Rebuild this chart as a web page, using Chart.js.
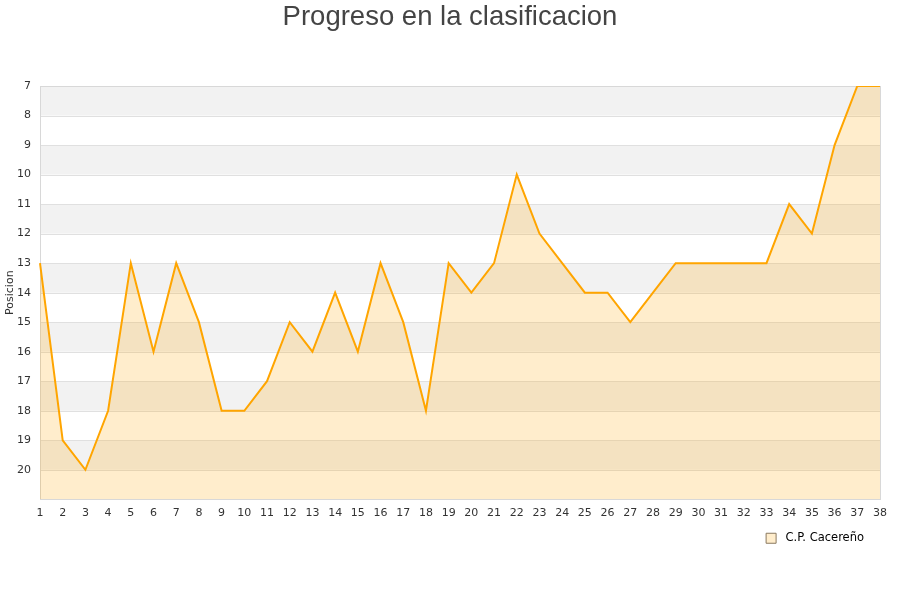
<!DOCTYPE html>
<html>
<head>
<meta charset="utf-8">
<script src="https://cdn.jsdelivr.net/npm/chart.js@4/dist/chart.umd.min.js"></script>
<style>
html,body{margin:0;padding:0;background:#fff;}
#wrap{width:900px;height:600px;}
</style>
</head>
<body>
<div id="wrap"><canvas id="c" width="900" height="600"></canvas></div>
<script>
const jornadas = ['1','2','3','4','5','6','7','8','9','10','11','12','13','14','15','16','17','18','19','20','21','22','23','24','25','26','27','28','29','30','31','32','33','34','35','36','37','38'];
const posiciones = [13,19,20,18,13,16,13,15,18,18,17,15,16,14,16,13,15,18,13,14,13,10,12,13,14,14,15,14,13,13,13,13,13,11,12,9,7,7];
const equipo = 'C.P. Cacereño';
const tituloGrafico = 'Progreso en la clasificacion';
const tituloY = 'Posicion';
const posMin = 7, posMax = 21;

const bandas = {
  id: 'bandas',
  afterLayout(chart) {
    if (chart.legend) chart.legend.right -= 26;
  },
  beforeDatasetsDraw(chart) {
    const {ctx, chartArea, scales} = chart;
    const y = scales.y;
    ctx.save();
    ctx.fillStyle = '#f2f2f2';
    for (let v = posMin; v < posMax; v += 2) {
      const a = y.getPixelForValue(v), b = y.getPixelForValue(v + 1);
      ctx.fillRect(chartArea.left, Math.min(a,b), chartArea.right - chartArea.left, Math.abs(b - a));
    }
    ctx.strokeStyle = '#e0e0e0';
    ctx.lineWidth = 1;
    for (let v = posMin; v <= posMax; v++) {
      const p = Math.round(y.getPixelForValue(v)) + 0.5;
      ctx.beginPath(); ctx.moveTo(chartArea.left, p); ctx.lineTo(chartArea.right, p); ctx.stroke();
    }
    ctx.strokeStyle = '#d8d8d8';
    ctx.strokeRect(Math.round(chartArea.left)+0.5, Math.round(chartArea.top)+0.5, Math.round(chartArea.right-chartArea.left), Math.round(chartArea.bottom-chartArea.top));
    ctx.restore();
  }
};

new Chart(document.getElementById('c'), {
  type: 'line',
  data: {
    labels: jornadas,
    datasets: [{
      label: equipo,
      data: posiciones,
      borderColor: '#ffa500',
      backgroundColor: 'rgba(255,165,0,0.2)',
      borderWidth: 2,
      pointRadius: 0,
      tension: 0,
      fill: {value: posMax}
    }]
  },
  options: {
    responsive: false,
    animation: false,
    devicePixelRatio: 1,
    layout: {padding: {left: 4, right: 4, top: 0, bottom: 46}},
    plugins: {
      title: {
        display: true,
        text: tituloGrafico,
        color: '#444',
        font: {family: 'Liberation Sans', size: 27.5, weight: 'normal'},
        padding: {top: 1, bottom: 52}
      },
      legend: {
        position: 'bottom',
        align: 'end',
        labels: {
          color: '#222',
          font: {family: 'DejaVu Sans', size: 11.5},
          boxWidth: 10,
          boxHeight: 10,
          padding: 6,
          generateLabels(chart) {
            return [{text: ' ' + equipo, fillStyle: '#ffedcc', strokeStyle: '#8a7a60', lineWidth: 1, datasetIndex: 0}];
          }
        }
      },
      tooltip: {enabled: false}
    },
    scales: {
      x: {
        type: 'category',
        offset: false,
        grid: {display: false, drawTicks: false},
        border: {display: false},
        ticks: {color: '#333', font: {family: 'DejaVu Sans', size: 11}, maxRotation: 0, autoSkip: false, padding: 7}
      },
      y: {
        reverse: true,
        min: posMin,
        max: posMax,
        grid: {display: false, drawTicks: false},
        border: {display: false},
        title: {display: true, text: tituloY, color: '#333', font: {family: 'DejaVu Sans', size: 11}, padding: 0},
        ticks: {
          stepSize: 1,
          color: '#333',
          font: {family: 'DejaVu Sans', size: 11},
          padding: 9,
          callback: v => (v === posMax ? '' : v)
        },
        afterFit(s) { s.width = 36; }
      },
      y2: {
        position: 'right',
        display: true,
        grid: {display: false, drawTicks: false},
        border: {display: false},
        ticks: {display: false},
        afterFit(s) { s.width = 16; }
      }
    }
  },
  plugins: [bandas]
});
</script>
</body>
</html>
